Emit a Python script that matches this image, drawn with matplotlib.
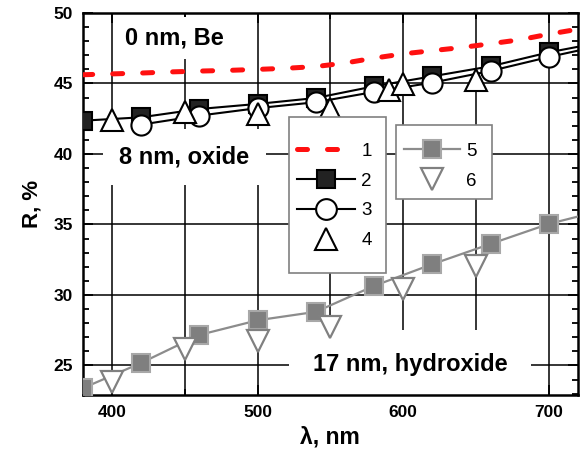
import matplotlib
matplotlib.use("Agg")
import matplotlib.pyplot as plt
from matplotlib.patches import Rectangle
from matplotlib.ticker import MultipleLocator

plt.rcParams['font.family'] = ['Liberation Sans', 'DejaVu Sans']

# reflectance R (%) vs wavelength (nm)

# 1 - 0 nm, clean Be (red dashed)
wl_1 = [380, 400, 420, 440, 460, 480, 500, 520, 540, 560, 580, 600, 620, 640, 660, 680, 700, 720]
R_1 = [45.62, 45.68, 45.74, 45.82, 45.88, 45.93, 46.0, 46.08, 46.2, 46.45, 46.8, 47.1, 47.33, 47.55,
       47.82, 48.1, 48.5, 48.85]

# 2 - 8 nm oxide, black squares
wl_2 = [380, 420, 460, 500, 540, 580, 620, 660, 700, 740]
R_2 = [42.36, 42.6, 43.19, 43.55, 43.97, 44.8, 45.51, 46.22, 47.21, 48.0]

# 3 - 8 nm oxide, circles
wl_3 = [420, 460, 500, 540, 580, 620, 660, 700, 740]
R_3 = [42.08, 42.72, 43.25, 43.67, 44.4, 45.06, 45.89, 46.88, 47.78]

# 4 - 8 nm oxide, triangles
wl_4 = [400, 450, 500, 550, 590, 600, 650]
R_4 = [42.41, 42.96, 42.84, 43.2, 44.56, 44.99, 45.27]

# 5 - 17 nm hydroxide, grey squares
wl_5 = [380, 420, 460, 500, 540, 580, 620, 660, 700, 740]
R_5 = [23.38, 25.17, 27.16, 28.2, 28.8, 30.64, 32.18, 33.62, 35.04, 36.08]

# 6 - 17 nm hydroxide, grey down triangles
wl_6 = [400, 450, 500, 550, 600, 650]
R_6 = [23.85, 26.15, 26.7, 27.73, 30.4, 32.06]

labels_a = ["1", "2", "3", "4"]
labels_b = ["5", "6"]


fig = plt.figure(figsize=(5.84, 4.5), dpi=100)
ax = fig.add_axes([0.1416, 0.1222, 0.8481, 0.8489])

l5, = ax.plot(wl_5, R_5, color='#8c8c8c', lw=1.6, marker='s', ms=12.5,
              mfc='#7f7f7f', mec='#a8a8a8', mew=1.5, zorder=3)
l6, = ax.plot(wl_6, R_6, ls='none', marker='v', ms=16,
              mfc='white', mec='#808080', mew=1.6, zorder=3)
l1, = ax.plot(wl_1, R_1, color='#ff1010', lw=3.6, ls=(0, (2, 4)),
              dash_capstyle='round', zorder=3)
l2, = ax.plot(wl_2, R_2, color='black', lw=1.5, marker='s', ms=12.5,
              mfc='#222222', mec='black', mew=1.5, zorder=4)
l3, = ax.plot(wl_3, R_3, color='black', lw=1.5, marker='o', ms=14.5,
              mfc='white', mec='black', mew=1.5, zorder=5)
l4, = ax.plot(wl_4, R_4, ls='none', marker='^', ms=16,
              mfc='white', mec='black', mew=1.5, zorder=6)

# labels of the layers
ax.text(409, 48.23, "0 nm, Be", fontsize=17, fontweight='bold', ha='left', va='center',
        bbox=dict(boxstyle='square,pad=0.4', fc='white', ec='none'), zorder=1, clip_on=True)
ax.text(405, 39.8, "8 nm, oxide", fontsize=17, fontweight='bold', ha='left', va='center',
        bbox=dict(boxstyle='square,pad=0.7', fc='white', ec='none'), zorder=1, clip_on=True)
ax.text(538, 25.04, "17 nm, hydroxide", fontsize=17, fontweight='bold', ha='left', va='center',
        bbox=dict(boxstyle='square,pad=1.0', fc='white', ec='none'), zorder=1, clip_on=True)

# two legend boxes
ax.add_patch(Rectangle((0.4165, 0.319), 0.1958, 0.4095, transform=ax.transAxes,
                       fc='white', ec='#808080', lw=1.2, zorder=10))
ax.add_patch(Rectangle((0.632, 0.513), 0.195, 0.1938, transform=ax.transAxes,
                       fc='white', ec='#808080', lw=1.2, zorder=10))

leg1 = ax.legend([l1, l2, l3, l4], labels_a, loc='upper left', bbox_to_anchor=(0.4327, 0.661),
                 frameon=False, borderpad=0, borderaxespad=0, handlelength=3.1,
                 handletextpad=0.32, labelspacing=0.68, fontsize=13.5, markerscale=1.03)
leg1.set_zorder(11)
ax.add_artist(leg1)
leg2 = ax.legend([l5, l6], labels_b, loc='upper left', bbox_to_anchor=(0.6487, 0.661),
                 frameon=False, borderpad=0, borderaxespad=0, handlelength=3.0,
                 handletextpad=0.32, labelspacing=0.68, fontsize=13.5, markerscale=1.03)
leg2.set_zorder(11)

ax.set_xlim(380, 720)
ax.set_ylim(22.9, 50)
ax.xaxis.set_major_locator(MultipleLocator(100))
ax.xaxis.set_minor_locator(MultipleLocator(50))
ax.yaxis.set_major_locator(MultipleLocator(5))
ax.yaxis.set_minor_locator(MultipleLocator(1))
ax.set_axisbelow(True)
ax.grid(which='major', color='black', lw=1.1)
ax.grid(which='minor', axis='x', color='black', lw=1.1)

ax.tick_params(which='both', direction='in', top=True, right=True, width=1.3)
ax.tick_params(which='major', length=7, labelsize=12.5, pad=7)
ax.tick_params(which='minor', length=4.5)
for lab in ax.get_xticklabels() + ax.get_yticklabels():
    lab.set_fontweight('bold')
for sp in ax.spines.values():
    sp.set_linewidth(1.8)

ax.set_xlabel("λ, nm", fontsize=16.5, fontweight='bold', labelpad=4)
ax.set_ylabel("R, %", fontsize=16, fontweight='bold', labelpad=8)

fig.savefig('out.png', dpi=100)
